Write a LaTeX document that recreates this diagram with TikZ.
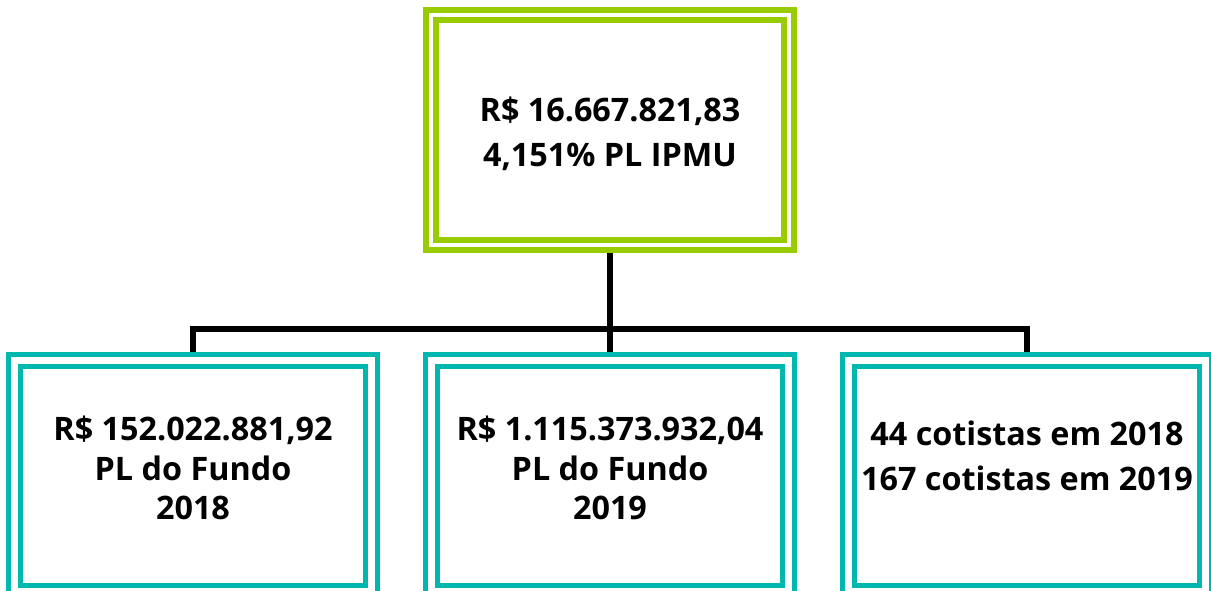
\documentclass[tikz,border=0pt]{standalone}
\usepackage{fontspec}
\setmainfont{Open Sans}
\usetikzlibrary{backgrounds}

\definecolor{limegreen}{RGB}{153,204,0}
\definecolor{tealbox}{RGB}{0,184,176}

\begin{document}
\begin{tikzpicture}[
  x=0.025cm, y=-0.025cm,
  topbox/.style={draw=limegreen, double=white, line width=0.14cm, double distance=0.12cm,
                 fill=white, minimum width=8.95cm, minimum height=5.75cm, inner sep=0pt, outer sep=0pt},
  subbox/.style={draw=tealbox, double=white, line width=0.125cm, double distance=0.175cm,
                 fill=white, minimum width=8.92cm, minimum height=5.75cm, inner sep=0pt, outer sep=0pt},
  boxtext/.style={font=\fontsize{23}{32}\selectfont\bfseries, align=center, inner sep=0pt},
  subtext/.style={boxtext, font=\fontsize{23}{28}\selectfont\bfseries},
  link/.style={line width=0.15cm, black},
]
\useasboundingbox (0,0) rectangle (1211,591);

% Boxes
\node[topbox] (ipmu) at (610,130) {};
\node[subbox] (pl2018) at (193,476) {};
\node[subbox] (pl2019) at (610,476) {};
\node[subbox] (cotistas) at (1027,476) {};

% Texts
\node[boxtext] (ipmutxt) at (610,134) {R\$ 16.667.821,83\\4,151\% PL IPMU};
\node[subtext] (pl2018txt) at (193,468) {R\$ 152.022.881,92\\PL do Fundo\\2018};
\node[subtext] (pl2019txt) at (610,468) {R\$ 1.115.373.932,04\\PL do Fundo\\2019};
\node[boxtext] (cotistastxt) at (1027,456) {44 cotistas em 2018\\167 cotistas em 2019};

% Connectors
\coordinate (bus) at (610,329);
\begin{scope}[on background layer]
  \draw[link] (ipmu.south) -- (bus);
  \draw[link] (pl2018.north) |- (bus) -| (cotistas.north);
  \draw[link] (bus) -- (pl2019.north);
\end{scope}

\end{tikzpicture}
\end{document}
